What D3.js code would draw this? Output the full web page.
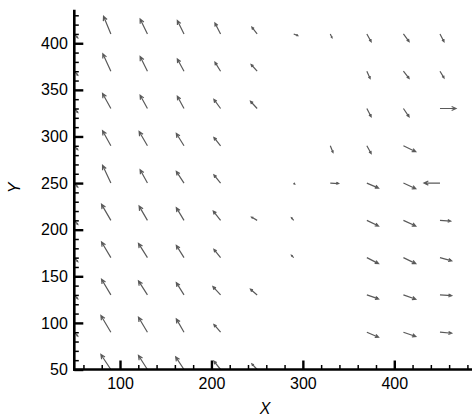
<!DOCTYPE html>
<html>
<head>
<meta charset="utf-8">
<script src="https://cdn.jsdelivr.net/npm/d3@7"></script>
<style>
  html, body { margin: 0; padding: 0; background: #ffffff; }
  svg { display: block; }
  text { font-family: "Liberation Sans", Arial, sans-serif; }
</style>
</head>
<body>
<svg id="chart" width="472" height="416"></svg>
<script>
// ---------- data ----------
const xCols = [50, 90, 130, 170, 210, 250, 290, 330, 370, 410, 450];
const yRows = [410, 370, 330, 290, 250, 210, 170, 130, 90, 50];

// U (x-component) per row (top to bottom), per column (left to right); null = no vector
const U = [
  [3.8, -8.0, -8.0, -7.3, -6.2, -5.8, 4.4, 1.9, 4.7, 6.2, 4.4],
  [3.8, -8.8, -8.0, -7.3, -6.2, -6.6, null, null, 3.6, 6.2, 4.4],
  [3.8, -9.1, -8.0, -7.3, -7.3, -7.3, null, null, 4.7, 6.2, 17.5],
  [3.8, -9.1, -9.1, -8.4, -7.3, null, null, 3.0, 4.7, 13.5, null],
  [3.8, -9.1, -8.0, -8.4, -7.3, null, 1.1, 9.1, 12.8, 13.5, -17.5],
  [3.8, -10.2, -9.1, -8.4, -8.0, -6.2, -2.5, null, 12.8, 13.5, 11.7],
  [3.8, -10.2, -9.8, -8.4, -7.3, null, -2.5, null, 12.8, 13.5, 12.8],
  [3.8, -10.2, -9.8, -8.4, -8.4, -7.3, null, null, 12.8, 13.5, 12.8],
  [3.8, -10.9, -9.8, -8.4, -7.3, null, null, null, 12.8, 13.5, 12.8],
  [null, -10.9, -9.8, -9.1, -7.3, -5.8, null, null, null, null, null]
];
// V (y-component)
const V = [
  [-4.3, 18.9, 16.1, 14.3, 11.8, 7.2, -1.8, -4.0, -8.3, -8.3, -8.3],
  [-4.3, 18.7, 15.8, 13.2, 9.7, 7.2, null, null, -7.8, -7.8, -7.2],
  [-4.3, 16.1, 14.3, 13.2, 9.7, 7.8, null, null, -8.9, -8.9, 0],
  [-4.3, 16.1, 15.3, 13.2, 8.9, null, null, -7.2, -8.3, -6.4, null],
  [-4.3, 19.0, 14.3, 12.6, 8.9, null, -1.1, -0.5, -5.4, -6.1, 0],
  [-4.3, 17.2, 15.3, 13.6, 10.0, 3.5, 2.8, null, -6.1, -6.1, -0.8],
  [-4.3, 16.8, 15.3, 13.2, 8.9, null, 2.5, null, -6.4, -6.4, -3.5],
  [-4.3, 16.8, 15.0, 13.2, 8.9, 6.1, null, null, -4.3, -4.6, -0.8],
  [-4.3, 17.9, 16.1, 14.3, 8.3, null, null, null, -5.4, -4.6, -1.1],
  [null, 16.1, 15.0, 13.6, 8.9, 6.1, null, null, null, null, null]
];

const xMajorTicks = [100, 200, 300, 400];
const yMajorTicks = [50, 100, 150, 200, 250, 300, 350, 400];
const xMinorTicks = d3.range(60, 481, 20).filter(v => v % 100 !== 0);
const yMinorTicks = d3.range(60, 431, 10).filter(v => v % 50 !== 0);
const xTitle = "X";
const yTitle = "Y";

// ---------- scales ----------
const svg = d3.select("#chart");
const x = d3.scaleLinear().domain([50, 486]).range([74.3, 472.9]);
const y = d3.scaleLinear().domain([50, 436]).range([369.5, 9.7]);

// ---------- vectors ----------
const vecs = [];
yRows.forEach((yv, i) => {
  xCols.forEach((xv, j) => {
    const u = U[i][j], v = V[i][j];
    if (u === null || v === null) return;
    vecs.push({ x0: xv, y0: yv, u, v });
  });
});

const color = "#5a5a5a";
const gv = svg.append("g");
vecs.forEach(d => {
  const x1 = x(d.x0), y1 = y(d.y0);
  const x2 = x(d.x0 + d.u), y2 = y(d.y0 + d.v);
  const dx = x2 - x1, dy = y2 - y1;
  const len = Math.hypot(dx, dy);
  if (len < 0.1) return;
  const ux = dx / len, uy = dy / len;
  const hl = Math.min(4.8, Math.max(1.5, len * 0.3));
  const ang = 25 * Math.PI / 180;
  const ca = Math.cos(ang), sa = Math.sin(ang);
  const b1x = x2 - hl * (ux * ca - uy * sa), b1y = y2 - hl * (uy * ca + ux * sa);
  const b2x = x2 - hl * (ux * ca + uy * sa), b2y = y2 - hl * (uy * ca - ux * sa);
  gv.append("path")
    .attr("d", `M${x1},${y1}L${x2},${y2}M${b1x},${b1y}L${x2},${y2}L${b2x},${b2y}`)
    .attr("fill", "none")
    .attr("stroke", color)
    .attr("stroke-width", 1.2)
    .attr("stroke-linejoin", "miter")
    .attr("stroke-linecap", "butt");
});

// ---------- axes ----------
const fontSize = 16;
svg.append("g")
  .attr("transform", `translate(0,${y(50)})`)
  .call(d3.axisBottom(x).tickValues(xMinorTicks).tickFormat("").tickSizeInner(-4.5).tickSizeOuter(0))
  .call(g => g.select(".domain").remove())
  .call(g => g.selectAll("line").attr("stroke", "#000").attr("stroke-width", 1.5));
const gx = svg.append("g")
  .attr("transform", `translate(0,${y(50)})`)
  .call(d3.axisBottom(x).tickValues(xMajorTicks).tickFormat(d3.format("d")).tickSizeInner(-9).tickSizeOuter(0).tickPadding(8));
gx.select(".domain").attr("stroke", "#000").attr("stroke-width", 2.6)
  .attr("d", `M${x(50) - 1.3},0H472`);
gx.selectAll(".tick line").attr("stroke", "#000").attr("stroke-width", 2.4);
gx.selectAll("text").attr("font-size", fontSize).attr("fill", "#000")
  .attr("font-family", "'Liberation Sans', Arial, sans-serif");

svg.append("g")
  .attr("transform", `translate(${x(50)},0)`)
  .call(d3.axisLeft(y).tickValues(yMinorTicks).tickFormat("").tickSizeInner(-4.5).tickSizeOuter(0))
  .call(g => g.select(".domain").remove())
  .call(g => g.selectAll("line").attr("stroke", "#000").attr("stroke-width", 1.5));
const gy = svg.append("g")
  .attr("transform", `translate(${x(50)},0)`)
  .call(d3.axisLeft(y).tickValues(yMajorTicks).tickFormat(d3.format("d")).tickSizeInner(-9).tickSizeOuter(0).tickPadding(6.5));
gy.select(".domain").attr("stroke", "#000").attr("stroke-width", 2.6)
  .attr("d", `M0,${y(50) + 1.3}V${y(436)}`);
gy.selectAll(".tick line").attr("stroke", "#000").attr("stroke-width", 2.4);
gy.selectAll("text").attr("font-size", fontSize).attr("fill", "#000")
  .attr("font-family", "'Liberation Sans', Arial, sans-serif");

// ---------- titles ----------
svg.append("text")
  .attr("x", 265).attr("y", 414)
  .attr("text-anchor", "middle")
  .attr("font-size", 16).attr("font-style", "italic")
  .text(xTitle);
svg.append("text")
  .attr("transform", "translate(20,188) rotate(-90)")
  .attr("text-anchor", "middle")
  .attr("font-size", 16).attr("font-style", "italic")
  .text(yTitle);
</script>
</body>
</html>
